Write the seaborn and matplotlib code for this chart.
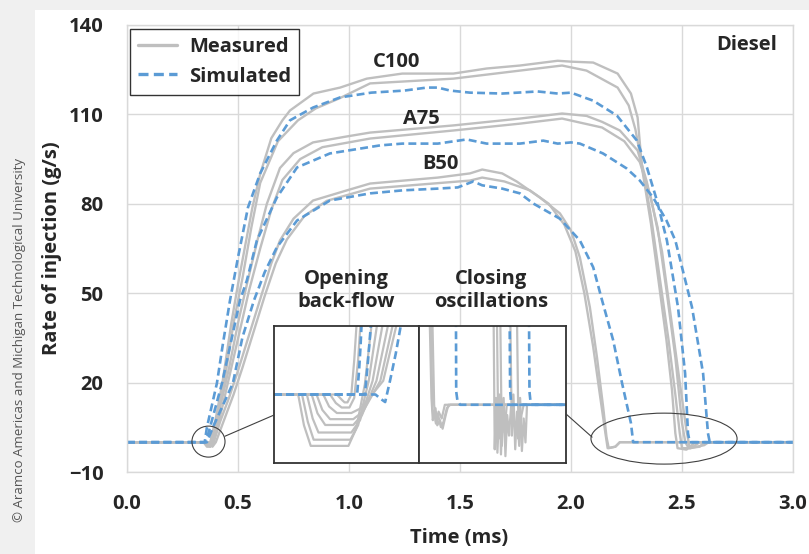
import numpy as np
import pandas as pd
import matplotlib
matplotlib.use("Agg")
import matplotlib.pyplot as plt
import seaborn as sns
from matplotlib.patches import Ellipse, Rectangle, ConnectionPatch
from matplotlib.lines import Line2D

# ---------------- main chart data (time in ms, rate in g/s) ----------------
c100_meas_a_t = [0.0, 0.345, 0.36, 0.375, 0.40, 0.43, 0.47, 0.50, 0.535, 0.565, 0.60, 0.65, 0.70, 0.734, 0.84, 0.96, 1.08, 1.24, 1.47, 1.62, 1.77, 1.94, 2.00, 2.10, 2.21, 2.27, 2.30, 2.32, 2.36, 2.40, 2.43, 2.455, 2.47, 2.48, 2.52, 2.56, 3.0]
c100_meas_a_y = [0, 0, -1.5, 0, 8, 20, 40, 53, 67, 78.8, 90, 102, 108, 111.3, 117, 119, 122, 123.7, 123.7, 125.4, 126.4, 128, 127.7, 127.4, 123.7, 117, 109, 92, 73.4, 51, 34.2, 17.4, 3, -2, -2.5, 0, 0]
c100_meas_b_t = [0, 0.35, 0.365, 0.38, 0.41, 0.44, 0.48, 0.52, 0.56, 0.60, 0.68, 0.77, 0.85, 0.96, 1.095, 1.47, 1.77, 1.96, 2.07, 2.21, 2.26, 2.29, 2.32, 2.36, 2.40, 2.44, 2.47, 2.49, 2.50, 2.54, 2.58, 3.0]
c100_meas_b_y = [0, 0, -1.5, 0, 9, 21, 40, 55, 72, 87, 101, 108, 112, 115.5, 120.4, 122, 124.7, 126.4, 124.7, 119, 113, 105, 93, 76, 55, 34, 16, 3, -2, -2, 0, 0]
a75_meas_a_t = [0, 0.355, 0.37, 0.385, 0.42, 0.46, 0.50, 0.54, 0.585, 0.63, 0.689, 0.75, 0.838, 0.99, 1.095, 1.47, 1.77, 1.96, 2.07, 2.14, 2.22, 2.30, 2.34, 2.39, 2.43, 2.47, 2.50, 2.515, 2.53, 2.58, 2.60, 3.0]
a75_meas_a_y = [0, 0, -1.5, 0, 12, 25, 40, 53, 67, 80, 92, 97, 100.6, 102.6, 103.9, 106.3, 108.6, 110.3, 109.5, 107.5, 104.6, 97.9, 87.8, 72.1, 51, 28.5, 6.4, 0, -2, -1.5, 0, 0]
a75_meas_b_t = [0, 0.36, 0.375, 0.39, 0.43, 0.47, 0.51, 0.55, 0.60, 0.65, 0.70, 0.78, 0.88, 1.095, 1.47, 1.77, 1.96, 2.14, 2.24, 2.31, 2.36, 2.41, 2.45, 2.49, 2.52, 2.535, 2.60, 2.62, 3.0]
a75_meas_b_y = [0, 0, -1.5, 0, 12, 25, 38, 51, 65, 78, 88, 95, 99, 101.9, 104.6, 106.9, 108.6, 105.6, 101, 94, 82, 64, 42, 20, 4, -2, -1, 0, 0]
b50_meas_a_t = [0, 0.36, 0.375, 0.39, 0.42, 0.46, 0.50, 0.55, 0.60, 0.65, 0.689, 0.75, 0.838, 0.99, 1.095, 1.40, 1.545, 1.60, 1.69, 1.755, 1.86, 1.95, 2.0, 2.04, 2.085, 2.117, 2.145, 2.16, 2.17, 2.20, 2.22, 3.0]
b50_meas_a_y = [0, 0, -1.5, 0, 7, 15, 24, 36, 48, 60, 67.7, 75, 81.1, 84.5, 86.8, 88.8, 90.2, 91.5, 90.2, 87.5, 82.1, 76.8, 71, 62, 45.3, 28.5, 11.7, 1.7, -2, -1.5, 0, 0]
b50_meas_b_t = [0, 0.37, 0.385, 0.40, 0.44, 0.48, 0.52, 0.57, 0.62, 0.67, 0.72, 0.80, 0.90, 1.095, 1.545, 1.60, 1.70, 1.815, 1.90, 1.97, 2.02, 2.06, 2.10, 2.13, 2.155, 2.165, 2.20, 2.22, 3.0]
b50_meas_b_y = [0, 0, -1.5, 0, 8, 16, 25, 37, 49, 60, 68, 76, 81, 85.1, 87.8, 88.8, 87.5, 84.5, 80, 73, 64, 50, 32, 16, 3, -2, -1.5, 0, 0]

c100_sim_t = [0, 0.35, 0.36, 0.405, 0.432, 0.464, 0.50, 0.545, 0.60, 0.675, 0.734, 0.838, 0.96, 1.10, 1.25, 1.35, 1.40, 1.455, 1.545, 1.69, 1.85, 1.94, 2.0, 2.10, 2.207, 2.297, 2.342, 2.387, 2.432, 2.482, 2.514, 2.527, 2.535, 3.0]
c100_sim_y = [0, 0, 5, 19.8, 33, 47.6, 62, 78.8, 90.2, 101.2, 108, 112.3, 115.7, 117.3, 118, 119, 119, 118, 117.3, 117, 117.7, 117, 117.3, 114.6, 109.6, 101.2, 92.2, 81.1, 67.7, 45.3, 23.1, 3, 0, 0]
a75_sim_t = [0, 0.355, 0.374, 0.428, 0.509, 0.54, 0.585, 0.675, 0.766, 0.914, 1.14, 1.24, 1.40, 1.53, 1.62, 1.77, 1.875, 1.94, 2.0, 2.04, 2.144, 2.25, 2.31, 2.37, 2.43, 2.47, 2.545, 2.595, 2.617, 2.625, 3.0]
a75_sim_y = [0, 0, 5, 19.8, 47.6, 54.3, 67.7, 82.1, 92.2, 96.9, 99.6, 100.2, 100.2, 101.6, 100.2, 100.2, 101.2, 100.2, 100.6, 100.2, 96.9, 91.9, 87.8, 82.1, 74.4, 67.7, 45.3, 23.1, 3, 0, 0]
b50_sim_t = [0, 0.36, 0.387, 0.477, 0.52, 0.572, 0.62, 0.675, 0.766, 0.914, 1.095, 1.24, 1.40, 1.49, 1.56, 1.60, 1.69, 1.77, 1.83, 1.95, 2.04, 2.10, 2.14, 2.19, 2.23, 2.27, 2.28, 3.0]
b50_sim_y = [0, 0, 5, 19.8, 35.2, 47.6, 57, 65.4, 74.4, 81.1, 83.5, 84.5, 85.1, 85.5, 87.5, 86.2, 85.1, 83.5, 80.1, 75.0, 67.7, 58.7, 47.6, 34.2, 19.8, 6.4, 0, 0]

x_ticks = [0.0, 0.5, 1.0, 1.5, 2.0, 2.5, 3.0]
y_ticks = [-10, 20, 50, 80, 110, 140]
case_labels = ["C100", "A75", "B50"]

# ---------------- inset "Opening back-flow" (time in µs, rate in g/s) ----------------
open_meas_t = [
    [290, 315, 321, 328, 367, 375, 384, 392],
    [290, 319, 325, 331, 369, 377, 388, 398],
    [290, 324, 330, 336, 370, 379, 392, 404],
    [290, 329, 335, 343, 372, 381, 396, 410],
    [290, 334, 340, 348, 372, 382, 400, 415],
    [290, 341, 347, 355, 370, 380, 403, 419],
    [290, 348, 354, 360, 368, 373, 377, 380],
    [290, 355, 360, 363, 366, 370, 373, 376],
]
open_meas_r = [
    [0, 0, -0.9, -1.5, -1.5, -1.0, 0.3, 2.3],
    [0, 0, -0.8, -1.32, -1.32, -0.9, 0.4, 2.3],
    [0, 0, -0.7, -1.11, -1.11, -0.75, 0.4, 2.3],
    [0, 0, -0.55, -0.89, -0.89, -0.6, 0.4, 2.3],
    [0, 0, -0.45, -0.72, -0.72, -0.5, 0.4, 2.3],
    [0, 0, -0.35, -0.54, -0.54, -0.4, 0.4, 2.3],
    [0, 0, -0.25, -0.38, -0.38, -0.1, 1.0, 2.3],
    [0, 0, -0.15, -0.23, -0.23, 0.0, 1.0, 2.3],
]
open_sim_t = [
    [290, 376, 378, 379.5, 381],
    [290, 384, 387, 391],
    [290, 395, 400, 405, 410, 416, 423],
]
open_sim_r = [
    [0, 0, 0.7, 1.4, 2.3],
    [0, 0, 0.9, 2.3],
    [0, 0, -0.12, -0.22, 0.4, 1.2, 2.3],
]

# ---------------- inset "Closing oscillations" (time in µs, rate in g/s) ----------------
close_meas_t = [
    [2138, 2146, 2152, 2158, 2166, 2176, 2188, 2200, 2215, 2230, 2750],
    [2143, 2150, 2156, 2164, 2172, 2184, 2196, 2210, 2222, 2750],
    [2150, 2158, 2166, 2178, 2192, 2206, 2750],
    [2425, 2430, 2436, 2442, 2450, 2458, 2468, 2750],
    [2440, 2446, 2452, 2458, 2466, 2474, 2484, 2750],
    [2455, 2462, 2470, 2478, 2486, 2494, 2504, 2750],
    [2500, 2507, 2514, 2522, 2530, 2540, 2550, 2560, 2750],
    [2530, 2537, 2544, 2552, 2560, 2568, 2575, 2750],
]
close_meas_r = [
    [2.5, 0.2, -0.45, -0.2, -0.55, -0.3, -0.65, -0.5, -0.1, 0, 0],
    [2.5, -0.1, -0.35, -0.1, -0.6, -0.45, -0.7, -0.3, 0, 0],
    [2.5, 0.0, -0.5, -0.2, -0.4, 0, 0],
    [2.5, -1.3, 0.2, -1.4, -0.2, -0.6, 0, 0],
    [2.5, -1.0, 0.3, -1.45, -0.1, -0.8, 0, 0],
    [2.5, -1.2, 0.2, -1.5, -0.3, -0.9, 0, 0],
    [2.5, -0.9, 0.3, -1.3, -0.2, -1.2, -0.3, 0, 0],
    [2.5, -1.0, 0.2, -1.35, -0.4, -1.1, 0, 0],
]
close_sim_t = [
    [2256, 2257, 2263, 2275, 2750],
    [2497, 2499, 2504, 2750],
    [2584, 2586, 2592, 2750],
]
close_sim_r = [
    [2.5, 0.39, 0.1, 0, 0],
    [2.5, 0.44, 0.0, 0],
    [2.5, 0.39, 0.0, 0],
]

# ---------------- styling ----------------
sns.set_style("white")
plt.rcParams['font.family'] = ['Open Sans', 'DejaVu Sans']
plt.rcParams['axes.unicode_minus'] = True

FS = 14.5
GRAY = "#bfbfbf"
BLUE = "#5b9bd5"
GRID = "#d9d9d9"
DASH = (3.0, 1.6)

W, H = 809, 554
fig = plt.figure(figsize=(W / 100, H / 100), dpi=100)
fig.patch.set_facecolor("#f0f0f0")
fig.add_artist(Rectangle((35 / W, 0), 1 - 35 / W, 1 - 10 / H, transform=fig.transFigure,
                         facecolor="white", edgecolor="none", zorder=0))

ax = fig.add_axes([127 / W, 1 - 472 / H, (793 - 127) / W, (472 - 25) / H])
ax.set_facecolor("white")


def draw(axis, t, r, color, dashed, lw):
    sns.lineplot(x=t, y=r, ax=axis, color=color, linewidth=lw, estimator=None,
                 sort=False, legend=False)
    line = axis.lines[-1]
    if dashed:
        line.set_dashes(DASH)
    line.set_solid_joinstyle("round")
    return line


meas_main = [(c100_meas_a_t, c100_meas_a_y), (c100_meas_b_t, c100_meas_b_y),
             (a75_meas_a_t, a75_meas_a_y), (a75_meas_b_t, a75_meas_b_y),
             (b50_meas_a_t, b50_meas_a_y), (b50_meas_b_t, b50_meas_b_y)]
sim_main = [(c100_sim_t, c100_sim_y), (a75_sim_t, a75_sim_y), (b50_sim_t, b50_sim_y)]

for t, r in meas_main:
    draw(ax, t, r, GRAY, False, 1.7)
for t, r in sim_main:
    draw(ax, t, r, BLUE, True, 1.9)

ax.set_xlim(0, 3)
ax.set_ylim(-10, 140)
ax.set_xticks(x_ticks)
ax.set_yticks(y_ticks)
ax.set_xticklabels([f"{v:.1f}" for v in x_ticks])
ax.set_yticklabels([f"{v}".replace("-", "\u2212") for v in y_ticks])
ax.grid(True, color=GRID, linewidth=1.0)
ax.set_axisbelow(True)
for s in ax.spines.values():
    s.set_color(GRID)
    s.set_linewidth(1.0)
ax.tick_params(axis="both", length=0, labelsize=FS)
ax.tick_params(axis="y", pad=17)
ax.tick_params(axis="x", pad=16)
for lab in ax.get_xticklabels() + ax.get_yticklabels():
    lab.set_fontweight("bold")

ax.set_xlabel("Time (ms)", fontsize=FS, fontweight="bold")
ax.set_ylabel("Rate of injection (g/s)", fontsize=FS, fontweight="bold")
ax.xaxis.set_label_coords((459 - 127) / 666, (472 - 538) / 447)
ax.xaxis.label.set_va("center")
ax.yaxis.set_label_coords((52 - 127) / 666, 0.5)
ax.yaxis.label.set_rotation_mode("default")
ax.yaxis.label.set_va("center")
ax.yaxis.label.set_ha("center")

# curve labels
for lab, (x, y) in zip(case_labels, [(1.212, 127.6), (1.324, 108.3), (1.414, 93.5)]):
    ax.text(x, y, lab, ha="center", va="center", fontsize=FS, fontweight="bold")
ax.text(2.93, 133.4, "Diesel", ha="right", va="center", fontsize=FS, fontweight="bold")
ax.text(0.986, 51.0, "Opening\nback-flow", ha="center", va="center", fontsize=FS,
        fontweight="bold", linespacing=1.2)
ax.text(1.64, 51.0, "Closing\noscillations", ha="center", va="center", fontsize=FS,
        fontweight="bold", linespacing=1.2)

# legend
handles = [Line2D([0], [0], color=GRAY, lw=2.4),
           Line2D([0], [0], color=BLUE, lw=2.4, dashes=DASH)]
leg = ax.legend(handles, ["Measured", "Simulated"], loc="upper left",
                bbox_to_anchor=(0.0045, 0.991), borderaxespad=0, frameon=True,
                fancybox=False, edgecolor="black", prop={"weight": "bold", "size": FS},
                handlelength=1.9, handletextpad=0.6, borderpad=0.42, labelspacing=0.45)
leg.get_frame().set_linewidth(1.0)
leg.set_zorder(5)

# zoom markers
ax.add_patch(Ellipse((0.367, 0.2), 0.149, 10.4, facecolor="none", edgecolor="#404040",
                     linewidth=0.8, zorder=6))
ax.add_patch(Ellipse((2.419, 1.2), 0.658, 17.1, facecolor="none", edgecolor="#404040",
                     linewidth=0.8, zorder=6))

# insets
ins1 = fig.add_axes([274 / W, 1 - 463 / H, 145 / W, 137 / H])
ins2 = fig.add_axes([419 / W, 1 - 463 / H, 147 / W, 137 / H])
for ia in (ins1, ins2):
    ia.set_facecolor("white")
    for s in ia.spines.values():
        s.set_color("#333333")
        s.set_linewidth(1.3)
    ia.set_zorder(7)

for t, r in zip(open_meas_t, open_meas_r):
    draw(ins1, t, r, GRAY, False, 1.6)
for t, r in zip(open_sim_t, open_sim_r):
    draw(ins1, t, r, BLUE, True, 1.9)
ins1.set_xlim(290, 440)
ins1.set_ylim(-2.0, 2.0)

for t, r in zip(close_meas_t, close_meas_r):
    draw(ins2, t, r, GRAY, False, 1.6)
for t, r in zip(close_sim_t, close_sim_r):
    draw(ins2, t, r, BLUE, True, 1.9)
ins2.set_xlim(2090, 2750)
ins2.set_ylim(-1.7, 2.3)
for ia in (ins1, ins2):
    ia.set_xticks([])
    ia.set_yticks([])
    ia.set_xlabel("")
    ia.set_ylabel("")

con1 = ConnectionPatch(xyA=(0.441, 2.0), coordsA=ax.transData, xyB=(0.0, 0.35),
                       coordsB=ins1.transAxes, color="#404040", linewidth=0.8, zorder=8)
con2 = ConnectionPatch(xyA=(1.0, 0.358), coordsA=ins2.transAxes, xyB=(2.095, 1.7),
                       coordsB=ax.transData, color="#404040", linewidth=0.8, zorder=8)
fig.add_artist(con1)
fig.add_artist(con2)

fig.text(20 / W, 1 - 340 / H, "\u00a9 Aramco Americas and Michigan Technological University",
         rotation=90, ha="center", va="center", fontsize=9.5, color="#555555",
         family=["Open Sans", "DejaVu Sans"])

fig.savefig("out.png", dpi=100, facecolor=fig.get_facecolor())
